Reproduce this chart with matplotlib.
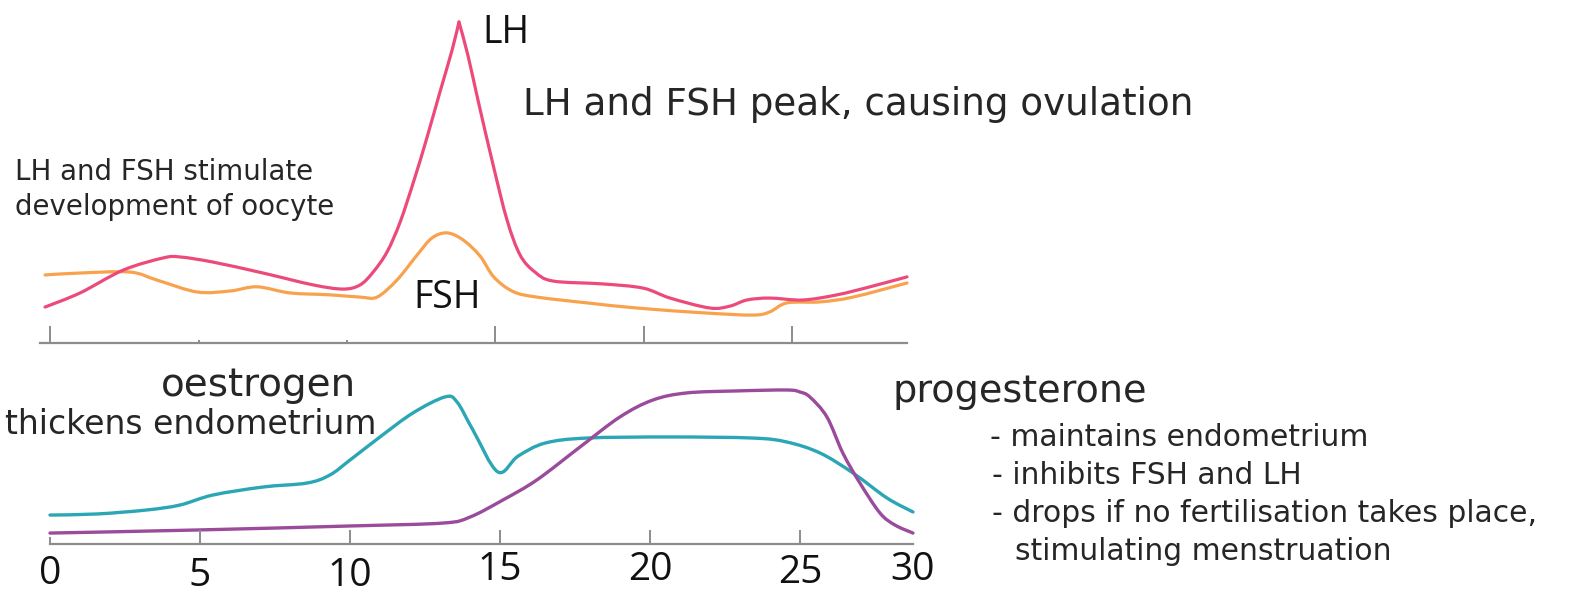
import matplotlib
matplotlib.use("Agg")
import numpy as np
import matplotlib.pyplot as plt
from matplotlib.ticker import FixedLocator
from matplotlib.path import Path
from matplotlib.patches import PathPatch

# ---------------- data ----------------
lh_days = [-0.17, 1.01, 2.46, 3.81, 4.38, 5.49, 7.17, 8.86, 9.87, 10.44, 10.88, 11.35,
           11.79, 12.26, 12.69, 13.13, 13.54, 13.77, 14.07, 14.41, 14.92, 15.39, 15.83,
           16.33, 16.94, 18.62, 19.97, 20.88, 22.22, 22.90, 23.47, 24.24, 25.35, 26.50,
           27.61, 28.86]
lh_level = [11.2, 15.6, 22.7, 26.5, 26.8, 25.2, 21.8, 18.1, 16.8, 18.1, 22.1, 28.4,
            37.7, 50.8, 63.9, 78.2, 91.3, 100.0, 89.7, 75.7, 55.5, 38.3, 27.4,
            22.1, 19.3, 18.4, 17.1, 14.0, 10.9, 11.5, 13.4, 14.0, 13.4, 15.0,
            17.5, 20.6]

fsh_days = [-0.17, 1.01, 2.69, 3.60, 4.95, 6.06, 6.97, 8.08, 9.43, 10.44, 11.01, 11.68,
            12.36, 12.86, 13.37, 13.91, 14.48, 14.95, 15.60, 16.40, 18.08, 19.76, 21.99,
            23.67, 24.24, 24.82, 25.93, 27.04, 28.86]
fsh_level = [21.2, 21.8, 22.1, 19.6, 15.9, 16.2, 17.5, 15.6, 15.0, 14.3, 14.3, 19.6,
             27.4, 32.7, 34.3, 32.1, 27.1, 20.5, 16.0, 14.3, 12.5, 10.9, 9.4,
             8.7, 9.7, 12.5, 12.8, 14.3, 18.7]

oes_days = [0.0, 1.57, 3.23, 4.33, 5.43, 7.10, 8.57, 9.33, 10.0, 11.0, 12.1, 13.17,
            13.57, 14.10, 14.93, 15.60, 16.50, 17.90, 20.67, 23.43, 24.57, 25.67,
            26.77, 27.90, 28.77]
oes_level = [18.8, 19.5, 22.1, 25.3, 31.8, 37.0, 39.6, 44.8, 54.5, 69.5, 85.1, 95.5,
             92.2, 74.0, 46.8, 57.0, 65.5, 68.8, 69.5, 68.8, 66.2, 59.1,
             46.1, 29.9, 20.8]

prog_days = [0.0, 4.9, 10.0, 13.1, 14.0, 15.1, 16.23, 17.67, 19.0, 20.1, 21.23,
             22.9, 24.57, 25.0, 25.33, 25.9, 26.43, 27.0, 27.67, 28.17, 28.77]
prog_level = [7.1, 9.1, 11.7, 13.6, 17.5, 28.6, 41.6, 63.0, 82.5, 93.5, 98.1,
              99.4, 100.0, 98.7, 95.5, 82.5, 59.1, 39.6, 20.1, 12.3, 7.1]

day_ticks = [0, 5, 10, 15, 20, 25, 30]
day_tick_labels = ["0", "5", "10", "15", "20", "25", "30"]

# ---------------- styling ----------------
W, H, DPI = 1592, 597, 100
LH_C, FSH_C = "#ec4a7b", "#f9a24e"
OES_C, PROG_C = "#2aa6b5", "#9a4b9b"
AXIS_C = "#8c8c8c"
TXT_C = "#262626"
HAND = ["DejaVu Sans"]
PRINT = ["Open Sans", "DejaVu Sans"]

fig = plt.figure(figsize=(W / DPI, H / DPI), dpi=DPI)
fig.patch.set_facecolor("white")


def axes_px(left, top, right, bottom):
    return fig.add_axes([left / W, 1 - bottom / H, (right - left) / W, (bottom - top) / H])


def fig_xy(x, y):
    return x / W, 1 - y / H


def smooth_line(ax, xs, ys, color, lw):
    """Draw a smooth (Catmull-Rom style Bezier) line through the given points."""
    x = np.asarray(xs, float)
    y = np.asarray(ys, float)
    n = len(x)
    verts = [(x[0], y[0])]
    codes = [Path.MOVETO]
    for i in range(n - 1):
        xa, ya = (x[i - 1], y[i - 1]) if i > 0 else (x[i], y[i])
        xb, yb = (x[i + 2], y[i + 2]) if i + 2 < n else (x[i + 1], y[i + 1])
        c1 = (x[i] + (x[i + 1] - xa) / 6, y[i] + (y[i + 1] - ya) / 6)
        c2 = (x[i + 1] - (xb - x[i]) / 6, y[i + 1] - (yb - y[i]) / 6)
        verts += [c1, c2, (x[i + 1], y[i + 1])]
        codes += [Path.CURVE4] * 3
    patch = PathPatch(Path(verts, codes), fill=False, edgecolor=color, lw=lw,
                      capstyle="round", joinstyle="round", clip_on=False)
    ax.add_patch(patch)


# top panel: LH & FSH
ax1 = axes_px(40, 0, 907, 343)
ax1.set_xlim(-0.34, 28.86)
ax1.set_ylim(0, 343 / 3.21)
smooth_line(ax1, fsh_days, fsh_level, FSH_C, 2.3)
k = int(np.argmax(lh_level))  # LH surge is a sharp peak
smooth_line(ax1, lh_days[:k + 1], lh_level[:k + 1], LH_C, 2.3)
smooth_line(ax1, lh_days[k:], lh_level[k:], LH_C, 2.3)

# bottom panel: oestrogen & progesterone
ax2 = axes_px(50, 350, 913, 544)
ax2.set_xlim(0, 28.77)
ax2.set_ylim(0, 194 / 1.54)
smooth_line(ax2, oes_days, oes_level, OES_C, 2.4)
smooth_line(ax2, prog_days, prog_level, PROG_C, 2.4)

for ax in (ax1, ax2):
    ax.set_facecolor("none")
    for s in ("top", "left", "right"):
        ax.spines[s].set_visible(False)
    ax.spines["bottom"].set_color(AXIS_C)
    ax.spines["bottom"].set_linewidth(1.6)
    ax.set_yticks([])

# top axis ticks: long at 0,15,20,25 ; short at 5,10
ax1.xaxis.set_major_locator(FixedLocator([t for t in day_ticks if t in (0, 15, 20, 25)]))
ax1.xaxis.set_minor_locator(FixedLocator([t for t in day_ticks if t in (5, 10)]))
ax1.tick_params(axis="x", which="major", direction="in", length=12, width=1.4,
                color=AXIS_C, labelbottom=False)
ax1.tick_params(axis="x", which="minor", direction="in", length=2.5, width=1.4,
                color=AXIS_C, labelbottom=False)

# bottom axis ticks: long at 5..25, short at 0
ax2.xaxis.set_major_locator(FixedLocator([t for t in day_ticks if 0 < t < 30]))
ax2.xaxis.set_minor_locator(FixedLocator([0]))
ax2.tick_params(axis="x", which="major", direction="in", length=10, width=1.4,
                color=AXIS_C, labelbottom=False)
ax2.tick_params(axis="x", which="minor", direction="in", length=5, width=1.4,
                color=AXIS_C, labelbottom=False)

# hand-placed tick labels (baseline offsets below the axis, in pixels)
baseline_drop = [40, 42, 42, 36, 36, 39, 36]
xmax = ax2.get_xlim()[1]
for t, lab, dy in zip(day_ticks, day_tick_labels, baseline_drop):
    ax2.annotate(lab, xy=(min(t, xmax), 0), xycoords=("data", "axes fraction"),
                 xytext=(0, -dy), textcoords="offset pixels", ha="center",
                 va="baseline", fontsize=28, family=PRINT, color="#111111",
                 annotation_clip=False)

# curve labels in print font
fig.text(*fig_xy(482, 43), "LH", fontsize=27, family=PRINT, color="#111111",
         ha="left", va="baseline")
fig.text(*fig_xy(413, 308), "FSH", fontsize=27, family=PRINT, color="#111111",
         ha="left", va="baseline")

# handwritten-style notes: (text, left x, baseline y, target width px, group)
notes = [
    ("LH and FSH peak, causing ovulation", 523, 115, 670, "a"),
    ("LH and FSH stimulate", 15, 180, 317, "b"),
    ("development of oocyte", 15, 215, 300, "b"),
    ("oestrogen", 161, 396, 195, "c"),
    ("thickens endometrium", 5, 434, 372, "d"),
    ("progesterone", 893, 402, 254, "e"),
    ("- maintains endometrium", 990, 446, 391, "f"),
    ("- inhibits FSH and LH", 992, 484, 297, "f"),
    ("- drops if no fertilisation takes place,", 992, 522, 592, "f"),
    ("stimulating menstruation", 1015, 560, 345, "f"),
]
renderer = fig.canvas.get_renderer()
texts, sizes = [], []
for txt, x, y, wpx, g in notes:
    t = fig.text(*fig_xy(x, y), txt, fontsize=20, family=HAND, color=TXT_C,
                 ha="left", va="baseline")
    w = t.get_window_extent(renderer=renderer).width
    texts.append(t)
    sizes.append(20 * wpx / w)
groups = {}
for (_, _, _, _, g), s in zip(notes, sizes):
    groups.setdefault(g, []).append(s)
for t, (_, _, _, _, g) in zip(texts, notes):
    t.set_fontsize(float(np.mean(groups[g])))

fig.savefig("out.png", dpi=DPI, facecolor="white")
